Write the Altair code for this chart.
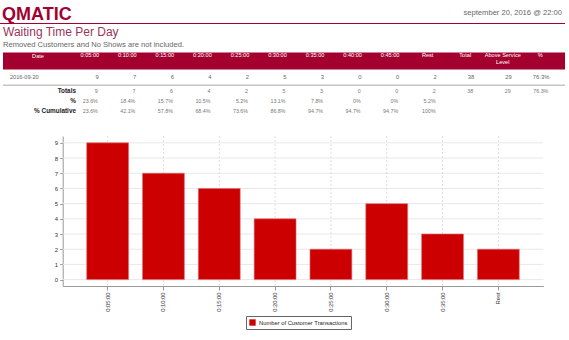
import altair as alt
import pandas as pd

# ---------------- data ----------------
logo_text = "QMATIC"
report_time = "september 20, 2016 @ 22:00"
report_title = "Waiting Time Per Day"
report_note = "Removed Customers and No Shows are not included."

date_header = "Date"
table_columns = ["0:05:00", "0:10:00", "0:15:00", "0:20:00", "0:25:00", "0:30:00",
                 "0:35:00", "0:40:00", "0:45:00", "Rest", "Total", "Above Service Level", "%"]
row_date = "2016-09-20"
row_values = ["9", "7", "6", "4", "2", "5", "3", "0", "0", "2", "38", "29", "76.3%"]
summary_rows = ["Totals", "%", "% Cumulative"]
totals_values = ["9", "7", "6", "4", "2", "5", "3", "0", "0", "2", "38", "29", "76.3%"]
percent_values = ["23.6%", "18.4%", "15.7%", "10.5%", "5.2%", "13.1%", "7.8%", "0%", "0%", "5.2%"]
cumulative_values = ["23.6%", "42.1%", "57.8%", "68.4%", "73.6%", "86.8%", "94.7%", "94.7%", "94.7%", "100%"]

bar_categories = ["0:05:00", "0:10:00", "0:15:00", "0:20:00", "0:25:00", "0:30:00", "0:35:00", "Rest"]
bar_values = [9, 7, 6, 4, 2, 5, 3, 2]
series_name = "Number of Customer Transactions"
y_tick_values = [0, 1, 2, 3, 4, 5, 6, 7, 8, 9]

# ---------------- styles ----------------
CRIMSON = "#a3002f"
BAR_RED = "#cc0000"
FONT = "Liberation Sans"


def one(text):
    return pd.DataFrame({"t": [text]})


# ---------------- header ----------------
logo = alt.Chart(one(logo_text)).mark_text(
    align="left", baseline="alphabetic", fontSize=18, fontWeight="bold", color=CRIMSON, font=FONT
).encode(x=alt.value(2), y=alt.value(20), text="t:N")

stamp = alt.Chart(one(report_time)).mark_text(
    align="right", baseline="middle", fontSize=7.6, color="#666", font=FONT
).encode(x=alt.value(562), y=alt.value(13), text="t:N")

head_line = alt.Chart(one("")).mark_rule(color=CRIMSON, strokeWidth=1).encode(
    x=alt.value(0), x2=alt.value(565), y=alt.value(23.5)
)

title = alt.Chart(one(report_title)).mark_text(
    align="left", baseline="alphabetic", fontSize=12, color="#9b3558", font=FONT
).encode(x=alt.value(3), y=alt.value(36), text="t:N")

note = alt.Chart(one(report_note)).mark_text(
    align="left", baseline="middle", fontSize=7.6, color="#666", font=FONT
).encode(x=alt.value(3), y=alt.value(45), text="t:N")

# ---------------- table ----------------
col_scale = alt.Scale(type="point", domain=table_columns, range=[78.8, 529.3], padding=0)
row_scale = alt.Scale(type="point", domain=summary_rows, range=[91, 110.7], padding=0)

band = alt.Chart(one("")).mark_rect(color=CRIMSON).encode(
    x=alt.value(3), x2=alt.value(565), y=alt.value(52.5), y2=alt.value(69.5)
)

date_head = alt.Chart(one(date_header)).mark_text(
    align="center", baseline="middle", fontSize=5.6, color="white", font=FONT
).encode(x=alt.value(38), y=alt.value(55.5), text="t:N")

df_head = pd.DataFrame({"col": table_columns})
col_heads = alt.Chart(df_head).transform_calculate(
    lab="replace(datum.col, 'Service ', 'Service\\n')"
).mark_text(
    align="center", baseline="top", fontSize=5.6, color="white", font=FONT,
    dx=11, lineBreak="\n", lineHeight=7
).encode(
    x=alt.X("col:N", scale=col_scale, axis=None),
    y=alt.value(52.5),
    text="lab:N",
)

date_cell = alt.Chart(one(row_date)).mark_text(
    align="left", baseline="middle", fontSize=5.6, color="#666", font=FONT
).encode(x=alt.value(10), y=alt.value(77), text="t:N")

df_row = pd.DataFrame({"col": table_columns, "val": row_values})
row_cells = alt.Chart(df_row).mark_text(
    align="right", baseline="middle", fontSize=5.8, color="#666", font=FONT, dx=20
).encode(
    x=alt.X("col:N", scale=col_scale, axis=None),
    y=alt.value(77),
    text="val:N",
)

separator = alt.Chart(one("")).mark_rule(color="#c4c4c4", strokeWidth=1.4).encode(
    x=alt.value(3), x2=alt.value(565), y=alt.value(85.3)
)

sum_records = []
for label, vals in zip(summary_rows, [totals_values, percent_values, cumulative_values]):
    for c, v in zip(table_columns, vals):
        sum_records.append({"row": label, "col": c, "val": v})
df_sum = pd.DataFrame(sum_records)

sum_cells = alt.Chart(df_sum).mark_text(
    align="right", baseline="middle", fontSize=5.3, color="#777", font=FONT, dx=19
).encode(
    x=alt.X("col:N", scale=col_scale, axis=None),
    y=alt.Y("row:N", scale=row_scale, axis=None),
    text="val:N",
)

sum_labels = alt.Chart(pd.DataFrame({"row": summary_rows})).mark_text(
    align="right", baseline="middle", fontSize=6.4, fontWeight="bold", color="#222", font=FONT
).encode(
    x=alt.value(76),
    y=alt.Y("row:N", scale=row_scale, axis=None),
    text="row:N",
)

table = alt.layer(col_heads, row_cells, sum_cells, sum_labels)

# ---------------- bar chart ----------------
df_bars = pd.DataFrame({"cat": bar_categories, "val": bar_values, "series": series_name})
df_yticks = pd.DataFrame({"t": y_tick_values})

x_scale = alt.Scale(type="band", domain=bar_categories, range=[62.7, 543.3],
                    paddingInner=0.25, paddingOuter=0.43)
y_scale = alt.Scale(domain=[-0.42, 9.45], range=[286, 136], nice=False, zero=False)

x_axis = alt.Axis(orient="bottom", offset=-54, title=None, labelAngle=270, labelAlign="right",
                  labelBaseline="middle", labelFontSize=5.8, labelColor="#333", labelFont=FONT,
                  tickSize=4, tickColor="#999", domainColor="#999", labelPadding=2, grid=False)
y_axis = alt.Axis(orient="left", offset=-62.7, title=None, values=y_tick_values, format="d",
                  labelFontSize=6, labelColor="#333", labelFont=FONT, tickSize=3,
                  tickColor="#999", domainColor="#999", labelPadding=2, grid=False)

hgrid = alt.Chart(df_yticks).mark_rule(color="#e8e8e8", strokeWidth=1).encode(
    y=alt.Y("t:Q", scale=y_scale, axis=y_axis),
    x=alt.value(62.7), x2=alt.value(543.3),
)
vgrid = alt.Chart(df_bars).mark_rule(color="#dddddd", strokeWidth=1, strokeDash=[2, 2]).encode(
    x=alt.X("cat:N", scale=x_scale, axis=x_axis, sort=bar_categories),
    y=alt.value(136), y2=alt.value(286),
)
bars = alt.Chart(df_bars).mark_bar(stroke="#e07070", strokeWidth=0.6).encode(
    x=alt.X("cat:N", scale=x_scale, axis=x_axis, sort=bar_categories),
    y=alt.Y("val:Q", scale=y_scale, axis=y_axis),
    y2=alt.datum(0),
    color=alt.Color(
        "series:N",
        scale=alt.Scale(domain=[series_name], range=[BAR_RED]),
        legend=alt.Legend(
            title=None, orient="none", legendX=246, legendY=316, direction="horizontal",
            symbolType="square", symbolSize=40, symbolStrokeWidth=0,
            labelFontSize=5.8, labelFont=FONT, labelColor="#222", labelLimit=0, labelOffset=3,
            strokeColor="#666", padding=3,
        ),
    ),
)
bar_chart = alt.layer(hgrid, vgrid, bars)

chart = alt.layer(
    bar_chart, logo, stamp, head_line, title, note, band, date_head, date_cell, separator, table
).resolve_scale(x="independent", y="independent").properties(
    width=569, height=340, autosize=alt.AutoSizeParams(type="none"), padding=0
).configure(font=FONT).configure_view(stroke=None)

chart.save("out.html", embed_options={"renderer": "svg", "actions": False})
